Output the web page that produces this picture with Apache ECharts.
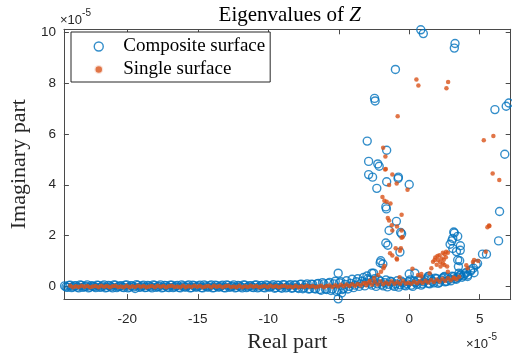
<!DOCTYPE html>
<html>
<head>
<meta charset="utf-8">
<script src="https://cdn.jsdelivr.net/npm/echarts@6/dist/echarts.min.js"></script>
<style>html,body{margin:0;padding:0;background:#fff}#c{width:512px;height:358px}</style>
</head>
<body>
<div id="c"></div>
<script>
// ---- data (units of 1e-5) ----
var xTicks = [-20, -15, -10, -5, 0, 5];
var yTicks = [0, 2, 4, 6, 8, 10];

var compositeBand = [
[-24.45,0.02],[-24.25,-0.04],[-24.05,0.05],[-23.85,-0.02],[-23.65,0.03],[-23.45,-0.06],[-23.25,0.04],[-23.05,-0.01],[-22.85,0.06],[-22.65,-0.03],
[-22.45,0.01],[-22.25,-0.05],[-22.05,0.04],[-21.85,-0.02],[-21.65,0.06],[-21.45,-0.04],[-21.25,0.02],[-21.05,-0.06],[-20.85,0.05],[-20.65,-0.01],
[-20.45,0.03],[-20.25,-0.05],[-20.05,0.06],[-19.85,-0.03],[-19.65,0.02],[-19.45,-0.08],[-19.25,0.04],[-19.05,-0.02],[-18.85,0.05],[-18.65,-0.04],
[-18.45,0.02],[-18.25,-0.06],[-18.05,0.04],[-17.85,-0.01],[-17.65,0.06],[-17.45,-0.04],[-17.25,0.03],[-17.05,-0.05],[-16.85,0.05],[-16.65,-0.02],
[-16.45,0.04],[-16.25,-0.06],[-16.05,0.02],[-15.85,-0.03],[-15.65,0.06],[-15.45,-0.05],[-15.25,0.03],[-15.05,-0.02],[-14.85,0.05],[-14.65,-0.06],
[-14.45,0.02],[-14.25,-0.03],[-14.05,0.06],[-13.85,-0.05],[-13.65,0.03],[-13.45,-0.02],[-13.25,0.05],[-13.05,-0.06],[-12.85,0.04],[-12.65,-0.01],
[-12.45,0.06],[-12.25,-0.04],[-12.05,0.02],[-11.85,-0.06],[-11.65,0.05],[-11.45,-0.02],[-11.25,0.03],[-11.05,-0.05],[-10.85,0.06],[-10.65,-0.03],
[-10.45,0.04],[-10.25,-0.06],[-10.05,0.03],[-9.85,-0.02],[-9.65,0.07],[-9.45,-0.05],[-9.25,0.04],[-9.05,-0.07],[-8.85,0.06],[-8.65,-0.03],
[-8.45,0.07],[-8.25,-0.06],[-8.05,0.05],[-7.85,-0.08],[-7.65,0.09],[-7.45,-0.05],[-7.25,0.1],[-7.05,-0.09],[-6.85,0.08],[-6.65,-0.1],
[-6.45,0.12],[-6.25,-0.15],[-6.05,0.1],[-5.85,-0.12],[-5.65,0.16],[-5.45,-0.1],[-5.25,0.2],[-5.05,-0.14],[-4.85,0.18],[-4.65,-0.08],
[-4.45,0.22],[-4.25,0.0],[-4.05,0.28],[-3.85,0.05],[-3.65,0.3],[-3.45,0.1],[-3.25,0.35],[-3.05,0.15],[-2.85,0.25],[-2.65,0.05],
[-2.45,0.3],[-2.25,0.1],[-2.05,0.2],[-1.85,0.02],[-1.65,0.25],[-1.45,0.08],[-1.25,0.18],[-1.05,0.0],[-0.85,0.22],[-0.65,0.06],
[-0.45,0.15],[-0.25,0.02],[-0.05,0.18],[0.15,0.05],[0.35,0.2],[0.55,0.08],[0.75,0.22],[0.95,0.1],[1.15,0.25],[1.35,0.12],
[1.55,0.28],[1.75,0.14],[1.95,0.3],[2.15,0.16],[2.35,0.32],[2.55,0.18],[2.75,0.35],[2.95,0.22],[3.15,0.38],[3.35,0.28],
[3.55,0.42],[3.75,0.36],[3.95,0.5],[4.15,0.45],[4.35,0.6],[4.55,0.72],[4.75,0.85]
];
var compositeBand2 = [
[-24.35,-0.02],[-24.15,0.04],[-23.95,-0.05],[-23.75,0.02],[-23.55,-0.03],[-23.35,0.06],[-23.15,-0.04],[-22.95,0.01],[-22.75,-0.06],[-22.55,0.03],
[-22.35,-0.01],[-22.15,0.05],[-21.95,-0.04],[-21.75,0.02],[-21.55,-0.06],[-21.35,0.04],[-21.15,-0.02],[-20.95,0.06],[-20.75,-0.05],[-20.55,0.01],
[-20.35,-0.03],[-20.15,0.05],[-19.95,-0.06],[-19.75,0.03],[-19.55,-0.02],[-19.35,0.07],[-19.15,-0.04],[-18.95,0.02],[-18.75,-0.05],[-18.55,0.04],
[-18.35,-0.02],[-18.15,0.06],[-17.95,-0.04],[-17.75,0.01],[-17.55,-0.06],[-17.35,0.04],[-17.15,-0.03],[-16.95,0.05],[-16.75,-0.05],[-16.55,0.02],
[-16.35,-0.04],[-16.15,0.06],[-15.95,-0.02],[-15.75,0.03],[-15.55,-0.06],[-15.35,0.05],[-15.15,-0.03],[-14.95,0.02],[-14.75,-0.05],[-14.55,0.06],
[-14.35,-0.02],[-14.15,0.03],[-13.95,-0.06],[-13.75,0.05],[-13.55,-0.03],[-13.35,0.02],[-13.15,-0.05],[-12.95,0.06],[-12.75,-0.04],[-12.55,0.01],
[-12.35,-0.06],[-12.15,0.04],[-11.95,-0.02],[-11.75,0.06],[-11.55,-0.05],[-11.35,0.02],[-11.15,-0.03],[-10.95,0.05],[-10.75,-0.06],[-10.55,0.03],
[-10.35,-0.04],[-10.15,0.06],[-9.95,-0.03],[-9.75,0.02],[-9.55,-0.07],[-9.35,0.05],[-9.15,-0.04],[-8.95,0.07],[-8.75,-0.06],[-8.55,0.03],
[-8.35,-0.07],[-8.15,0.06],[-7.95,-0.05],[-7.75,0.08],[-7.55,-0.09],[-7.35,0.05],[-7.15,-0.1],[-6.95,0.09],[-6.75,-0.08],[-6.55,0.1],
[-6.35,-0.12],[-6.15,0.15],[-5.95,-0.1],[-5.75,0.12],[-5.55,-0.16],[-5.35,0.1],[-5.15,-0.2],[-4.95,0.14],[-4.75,-0.12],[-4.55,0.08],
[-4.35,-0.1],[-4.15,0.12],[-3.95,-0.05],[-3.75,0.18],[-3.55,0.0],[-3.35,0.2],[-3.15,0.02],[-2.95,0.3],[-2.75,0.12],[-2.55,0.22],
[-2.35,0.0],[-2.15,0.25],[-1.95,0.08],[-1.75,0.15],[-1.55,-0.02],[-1.35,0.2],[-1.15,0.05],[-0.95,0.1],[-0.75,-0.03],[-0.55,0.2],
[-0.35,0.05],[-0.15,0.1],[0.05,0.25],[0.25,0.0],[0.45,0.15],[0.65,0.25],[0.85,0.05],[1.05,0.18],[1.25,0.3],[1.45,0.1],
[1.65,0.2],[1.85,0.32],[2.05,0.12],[2.25,0.25],[2.45,0.36],[2.65,0.2],[2.85,0.28],[3.05,0.4],[3.25,0.3],[3.45,0.35],
[3.65,0.45],[3.85,0.42],[4.05,0.55]
];
var compositeScatter = [
[0.82,10.1],[1.0,9.95],[3.25,9.56],[3.2,9.38],[-0.98,8.54],[-2.46,7.4],[-2.42,7.3],[-2.98,5.72],[-1.6,5.36],[-2.88,4.92],
[-2.23,4.82],[-2.13,4.73],[-2.88,4.4],[-2.6,4.3],[-0.77,4.3],[-0.79,4.25],[-1.6,4.12],[0.0,4.01],[-2.3,3.86],[-1.66,3.13],
[-1.62,3.05],[-0.91,2.56],[-1.43,2.2],[-0.61,2.12],[-0.54,2.07],[-1.66,1.71],[-1.52,1.62],[-0.66,1.35],[-2.02,1.01],[-1.87,0.88],
[-5.04,0.52],[-2.65,0.52],[-2.06,0.93],[-2.53,0.52],[-3.0,0.41],[0.0,0.49],[1.38,0.39],[-5.04,-0.49],[-4.8,-0.26],
[6.08,6.96],[6.88,7.09],[7.07,7.22],[6.78,5.2],[7.23,5.05],[6.41,2.95],[6.34,1.79],[5.48,1.27],[5.2,1.27],
[3.2,2.1],[3.44,1.97],[2.9,1.66],[3.09,1.89],[3.63,1.6],[3.35,1.37],[3.58,1.01],[3.49,0.78],[3.53,0.52],[3.16,2.14],
[3.02,1.79],[3.62,1.42],[3.44,1.04],[3.09,1.49],[4.14,0.39],[4.6,0.54],[4.37,0.65],[4.85,0.9],[0.4,0.52],[2.5,0.39],[1.33,0.39]
];
var singleBand = [
[-24.05,0.03],[-23.85,-0.03],[-23.65,0.01],[-23.45,-0.02],[-23.25,0.03],[-23.05,-0.01],[-22.85,0.02],[-22.65,-0.03],[-22.45,0.0],[-22.25,0.02],
[-22.05,-0.03],[-21.85,0.03],[-21.65,-0.01],[-21.45,0.02],[-21.25,-0.03],[-21.05,0.01],[-20.85,0.03],[-20.65,-0.02],[-20.45,0.0],[-20.25,-0.03],
[-20.05,0.03],[-19.85,-0.03],[-19.65,0.01],[-19.45,-0.02],[-19.25,0.03],[-19.05,-0.01],[-18.85,0.02],[-18.65,-0.03],[-18.45,0.0],[-18.25,0.02],
[-18.05,-0.03],[-17.85,0.03],[-17.65,-0.01],[-17.45,0.02],[-17.25,-0.03],[-17.05,0.01],[-16.85,0.03],[-16.65,-0.02],[-16.45,0.0],[-16.25,-0.03],
[-16.05,0.03],[-15.85,-0.03],[-15.65,0.01],[-15.45,-0.02],[-15.25,0.03],[-15.05,-0.01],[-14.85,0.02],[-14.65,-0.03],[-14.45,0.0],[-14.25,0.02],
[-14.05,-0.03],[-13.85,0.03],[-13.65,-0.01],[-13.45,0.02],[-13.25,-0.03],[-13.05,0.01],[-12.85,0.03],[-12.65,-0.02],[-12.45,0.0],[-12.25,-0.03],
[-12.05,0.03],[-11.85,-0.03],[-11.65,0.01],[-11.45,-0.02],[-11.25,0.03],[-11.05,-0.01],[-10.85,0.02],[-10.65,-0.03],[-10.45,0.0],[-10.25,0.02],
[-10.05,-0.03],[-9.85,0.03],[-9.65,-0.01],[-9.45,0.02],[-9.25,-0.03],[-9.05,0.01],[-8.85,0.03],[-8.65,-0.02],[-8.45,0.0],[-8.25,-0.03],
[-8.05,0.03],[-7.85,-0.03],[-7.65,0.01],[-7.45,-0.02],[-7.25,0.03],[-7.05,-0.01],[-6.85,0.02],[-6.65,-0.03],[-6.45,0.0],[-6.25,0.03],
[-6.05,-0.03],[-5.85,0.02],[-5.65,0.04],[-5.45,-0.02],[-5.25,0.05],[-5.05,0.0],[-4.85,0.06],[-4.65,0.01],[-4.45,0.07],[-4.25,0.02],
[-4.05,0.08],[-3.85,0.03],[-3.65,0.09],[-3.45,0.04],[-3.25,0.12],[-3.05,0.05],[-2.85,0.15],[-2.65,0.06],[-2.45,0.18],[-2.25,0.07],
[-2.05,0.2],[-1.85,0.08],[-1.65,0.15],[-1.45,0.09],[-1.25,0.2],[-1.05,0.1],[-0.85,0.16],[-0.65,0.1],[-0.45,0.22],[-0.25,0.11],
[-0.05,0.14],[0.15,0.1],[0.35,0.18],[0.55,0.12],[0.75,0.2],[0.95,0.13],[1.15,0.22],[1.35,0.15],[1.55,0.25],[1.75,0.17],
[1.95,0.27],[2.15,0.19],[2.35,0.3],[2.55,0.21],[2.75,0.32],[2.95,0.24],[3.15,0.35],[3.35,0.28],[3.55,0.38]
];
var singleScatter = [
[0.51,8.14],[0.65,7.91],[2.76,8.05],[2.64,7.8],[-0.82,6.7],[-1.85,5.46],[-1.69,5.11],[-1.66,4.62],[-1.2,4.4],[-1.71,4.6],
[5.29,5.75],[5.97,5.92],[5.92,4.44],[6.39,4.19],[-1.43,3.99],[-0.89,4.05],[-0.12,3.8],[-1.9,3.52],[-1.76,3.37],[-1.6,3.33],
[-1.33,3.26],[-0.54,2.82],[-1.52,2.69],[-1.43,2.59],[-1.24,2.41],[-0.87,2.36],[-1.2,2.2],[-0.54,2.2],[-0.47,1.94],[-0.96,1.5],
[-0.59,1.5],[-1.2,1.22],[-0.87,1.06],[-1.76,0.8],[-1.83,0.71],[-1.36,1.3],[-0.89,1.1],[-0.66,1.4],[-0.54,1.91],[5.55,2.33],
[5.69,2.38],[5.66,2.4],[4.89,1.0],[4.52,0.96],[4.05,0.83],[4.14,0.71],[4.6,1.04],[5.43,1.36],[0.23,0.69],[-0.68,0.36],
[1.85,1.14],[2.15,1.23],[2.5,1.27],[2.74,1.32],[2.39,1.32],[2.62,1.36],[2.04,1.04],[1.69,0.97],[1.8,1.04],[2.39,0.9],
[2.69,0.78],[2.22,0.78],[2.5,0.84],[1.45,0.52],[1.57,0.71],[0.86,0.49],[0.63,0.45],[2.74,0.58],[3.2,0.32],[0.86,0.39],
[-3.1,0.13],[-2.8,0.22],[-2.5,0.33],[-2.2,0.45],[-2.0,0.58],[2.0,1.2],[2.3,1.1],[2.6,1.15],[2.2,0.95],[1.95,0.85],[2.45,1.05]
];

var BLUE = '#0072BD', ORANGE = '#D95319', AX = '#4a4a4a';
var chart = echarts.init(document.getElementById('c'), null, {renderer: 'canvas'});
var tickStyle = {inside: true, length: 5, lineStyle: {color: AX, width: 1}};
var lineStyle = {show: true, onZero: false, lineStyle: {color: AX, width: 1}};
var labelFont = {fontFamily: 'Liberation Sans', fontSize: 13.5, color: '#262626'};
var serif = 'Liberation Serif';
var expRich = {
  a: {fontFamily: 'Liberation Sans', fontSize: 13, fill: '#262626', verticalAlign: 'bottom', padding: [6,0,0,0]},
  b: {fontFamily: 'Liberation Sans', fontSize: 10, fill: '#262626', verticalAlign: 'top'}
};

chart.setOption({
  animation: false,
  backgroundColor: '#fff',
  title: {
    text: '{a|Eigenvalues of }{b|Z}',
    left: 284.7, top: 0, textAlign: 'center',
    textStyle: {fontWeight: 'normal', rich: {
      a: {fontFamily: serif, fontSize: 21, fontWeight: 'normal', color: '#000'},
      b: {fontFamily: serif, fontSize: 21, fontWeight: 'normal', fontStyle: 'italic', color: '#000'}
    }}
  },
  legend: {
    orient: 'vertical', left: 71, top: 32,
    padding: [5, 5, 3, 22],
    itemWidth: 39, itemHeight: 9, itemGap: 4,
    backgroundColor: '#fff', borderColor: '#262626', borderWidth: 1,
    textStyle: {fontFamily: serif, fontSize: 19, color: '#000'},
    data: [
      {name: 'Composite surface', icon: 'circle', itemStyle: {color: '#fff', borderColor: BLUE, borderWidth: 1.4}},
      {name: 'Single surface', icon: 'circle', itemStyle: {color: ORANGE, borderColor: '#fff', borderWidth: 2.5}}
    ]
  },
  grid: {left: 58.7, right: 1.3, top: 29.3, bottom: 55.3, containLabel: false},
  xAxis: [{
    type: 'value', min: -24.5, max: 7.2, position: 'bottom',
    name: 'Real part', nameLocation: 'middle', nameGap: 25,
    nameTextStyle: {fontFamily: serif, fontSize: 22, color: '#262626'},
    axisLine: lineStyle, splitLine: {show: false},
    axisTick: Object.assign({customValues: xTicks}, tickStyle),
    axisLabel: Object.assign({customValues: xTicks, margin: 13}, labelFont)
  }, {
    type: 'value', min: -24.5, max: 7.2, position: 'top',
    axisLine: lineStyle, splitLine: {show: false},
    axisTick: Object.assign({customValues: xTicks}, tickStyle),
    axisLabel: {show: false}
  }],
  yAxis: [{
    type: 'value', min: -0.5, max: 10.12, position: 'left',
    name: 'Imaginary part', nameLocation: 'middle', nameGap: 31, nameRotate: 90,
    nameTextStyle: {fontFamily: serif, fontSize: 22, color: '#262626'},
    axisLine: lineStyle, splitLine: {show: false},
    axisTick: Object.assign({customValues: yTicks}, tickStyle),
    axisLabel: Object.assign({customValues: yTicks, margin: 8}, labelFont)
  }, {
    type: 'value', min: -0.5, max: 10.12, position: 'right',
    axisLine: lineStyle, splitLine: {show: false},
    axisTick: Object.assign({customValues: yTicks}, tickStyle),
    axisLabel: {show: false}
  }],
  graphic: [
    {type: 'text', left: 60, top: 8, style: {text: '{a|×10}{b|-5}', rich: expRich}},
    {type: 'text', left: 466, top: 332, style: {text: '{a|×10}{b|-5}', rich: expRich}}
  ],
  series: [{
    name: 'Composite surface', type: 'scatter', xAxisIndex: 0, yAxisIndex: 0,
    symbol: 'circle', symbolSize: 8,
    itemStyle: {color: 'rgba(0,0,0,0)', borderColor: BLUE, borderWidth: 1.4},
    data: compositeBand.concat(compositeBand2, compositeScatter), clip: true, z: 2
  }, {
    name: 'Single surface', type: 'scatter', xAxisIndex: 0, yAxisIndex: 0,
    symbol: 'circle', symbolSize: 4.5,
    itemStyle: {color: ORANGE},
    data: singleBand.concat(singleScatter), clip: true, z: 3
  }]
});
</script>
</body>
</html>
